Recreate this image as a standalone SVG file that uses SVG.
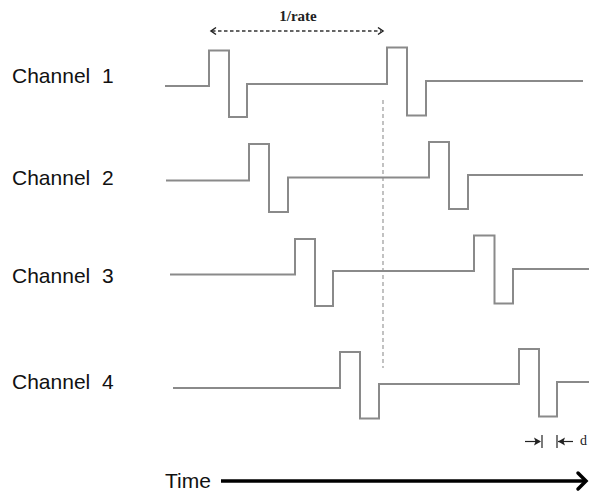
<svg xmlns="http://www.w3.org/2000/svg" width="589" height="493" viewBox="0 0 589 493">
  <defs>
    <style>
      .label { font-family: "Liberation Sans", Arial, sans-serif; font-size: 21px; fill: #111; white-space: pre; }
      .serif { font-family: "Liberation Serif", "Times New Roman", serif; fill: #222222; }
      .pulse { fill: none; stroke: #8a8a8a; stroke-width: 2; stroke-linejoin: miter; }
      .guide { fill: none; stroke: #999; stroke-width: 1.2; stroke-dasharray: 4 3; }
      .span { fill: none; stroke: #333; stroke-width: 1.5; stroke-dasharray: 3.5 2.5; }
      .head { fill: none; stroke: #222; stroke-width: 1.5; }
      .tick { fill: none; stroke: #222; stroke-width: 1.2; }
    </style>
  </defs>

  <rect width="589" height="493" fill="#fff"/>

  <!-- channel labels -->
  <g id="labels">
    <text class="label" x="12" y="83">Channel  1</text>
    <text class="label" x="12" y="185">Channel  2</text>
    <text class="label" x="12" y="283">Channel  3</text>
    <text class="label" x="12" y="389">Channel  4</text>
  </g>

  <!-- period marker -->
  <g id="period">
    <text class="serif" x="298" y="21" font-size="15" font-weight="bold" text-anchor="middle">1/rate</text>
    <line class="span" x1="212" y1="31" x2="381" y2="31"/>
    <polyline class="head" points="216,27.5 211,31 216,34.5"/>
    <polyline class="head" points="378,27.5 383,31 378,34.5"/>
  </g>

  <!-- reference line -->
  <line id="guide" class="guide" x1="383" y1="100" x2="383" y2="368"/>

  <!-- pulse trains -->
  <g id="channel1">
    <polyline class="pulse" points="165,86 209,86 209,50.5 229,50.5 229,117 247,117 247,84 387,84 387,47.5 407,47.5 407,115.5 426,115.5 426,81 583,81"/>
  </g>
  <g id="channel2">
    <polyline class="pulse" points="166,180.5 249,180.5 249,144 269,144 269,212 288,212 288,177.5 429,177.5 429,142 449,142 449,209 468,209 468,175 583,175"/>
  </g>
  <g id="channel3">
    <polyline class="pulse" points="170,274.5 295,274.5 295,239 315,239 315,306 333,306 333,271 474,271 474,235.5 494.5,235.5 494.5,303.5 513,303.5 513,269 589,269"/>
  </g>
  <g id="channel4">
    <polyline class="pulse" points="173,388 340,388 340,352 360,352 360,418.5 379,418.5 379,384 519,384 519,349 539,349 539,416.5 557,416.5 557,382 589,382"/>
  </g>

  <!-- gap marker d -->
  <g id="gap">
    <line class="tick" x1="525" y1="441.5" x2="540" y2="441.5"/>
    <polygon points="541,441.5 534,437.5 535.5,441.5 534,445.5" fill="#222"/>
    <line class="tick" x1="542" y1="435" x2="542" y2="448"/>
    <line class="tick" x1="557" y1="435" x2="557" y2="448"/>
    <line class="tick" x1="558" y1="441.5" x2="573" y2="441.5"/>
    <polygon points="558,441.5 565,437.5 563.5,441.5 565,445.5" fill="#222"/>
    <text class="serif" x="580" y="445" font-size="14">d</text>
  </g>

  <!-- time axis -->
  <g id="time">
    <text class="label" x="165" y="488">Time</text>
    <line x1="221" y1="481" x2="585" y2="481" stroke="#000" stroke-width="3.5"/>
    <polyline points="578,473 586,481 578,489" fill="none" stroke="#000" stroke-width="3.5" stroke-linecap="round"/>
  </g>
</svg>
